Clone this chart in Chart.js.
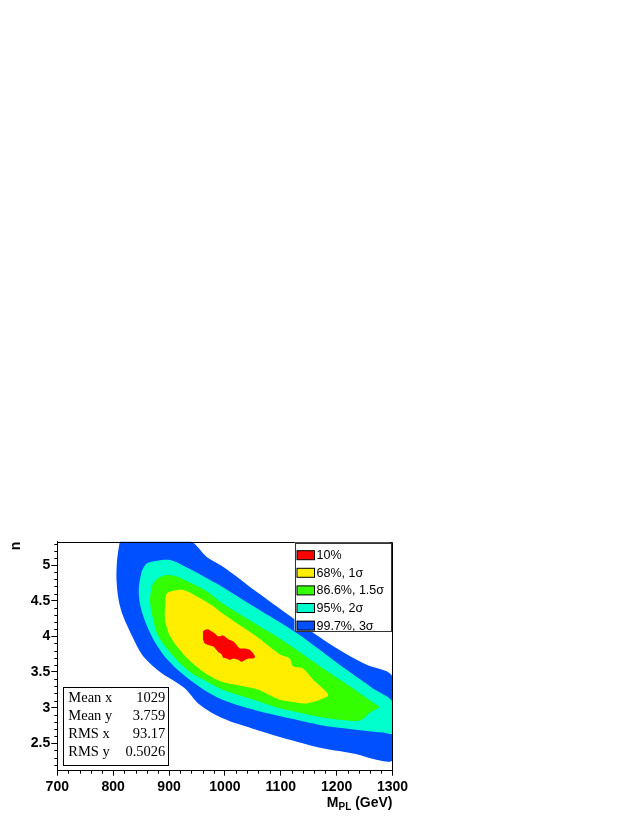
<!DOCTYPE html>
<html>
<head>
<meta charset="utf-8">
<script src="https://cdn.jsdelivr.net/npm/chart.js@4.4.0/dist/chart.umd.min.js"></script>
<style>
  html, body { margin: 0; padding: 0; background: #fff; }
  #wrap { width: 631px; height: 816px; }
</style>
</head>
<body>
<div id="wrap"><canvas id="contourPlot" width="631" height="816"></canvas></div>
<script>
// confidence levels, innermost first
const levels = ['10%', '68%, 1σ', '86.6%, 1.5σ', '95%, 2σ', '99.7%, 3σ'];
const levelColors = ['#ff0000', '#ffee00', '#33ff00', '#00ffcc', '#0050ff'];

// contour outlines: [M_PL (GeV), n]
const red = [[961,3.95],[961,4.07],[964,4.09],[970,4.10],[976,4.07],[982,4.04],[988,4.00],[997,4.01],
  [1006,3.96],[1015,3.93],[1021,3.88],[1027,3.83],[1036,3.83],[1045,3.81],[1051,3.76],[1054,3.71],
  [1051,3.69],[1042,3.69],[1036,3.67],[1030,3.64],[1024,3.67],[1015,3.69],[1009,3.67],[1003,3.69],
  [997,3.70],[994,3.75],[988,3.78],[979,3.86],[970,3.88],[964,3.90]];
const yellow = [[893,4.44],[896,4.60],[908,4.64],[926,4.65],[950,4.56],[980,4.42],[996,4.32],[1056,4.00],
  [1098,3.75],[1116,3.69],[1122,3.58],[1140,3.55],[1158,3.39],[1185,3.18],[1170,3.11],[1146,3.06],
  [1122,3.08],[1098,3.11],[1056,3.26],[996,3.36],[962,3.50],[927,3.74],[902,4.00],[893,4.23]];
const green = [[869,4.70],[878,4.80],[896,4.86],[914,4.84],[938,4.75],[968,4.63],[996,4.46],[1056,4.17],
  [1098,3.97],[1134,3.78],[1170,3.58],[1206,3.39],[1242,3.20],[1265,3.07],[1276,3.01],[1259,2.93],
  [1242,2.82],[1206,2.83],[1170,2.87],[1134,2.93],[1098,2.99],[1056,3.10],[996,3.25],[962,3.39],
  [938,3.50],[906,3.74],[881,4.00],[872,4.23],[866,4.50]];
const cyan = [[851,4.91],[860,5.02],[878,5.06],[902,5.07],[931,4.97],[985,4.74],[1045,4.45],[1116,4.11],
  [1146,3.95],[1218,3.53],[1265,3.27],[1300,3.08],[1300,2.64],[1283,2.65],[1235,2.69],[1175,2.75],
  [1116,2.85],[1056,2.96],[996,3.11],[955,3.29],[920,3.50],[890,3.74],[869,4.00],[854,4.28],
  [847,4.50],[846,4.70]];
const blue = [[812,5.34],[936,5.34],[968,5.11],[998,4.97],[1056,4.63],[1116,4.29],[1175,3.96],[1218,3.75],
  [1254,3.60],[1300,3.43],[1300,2.27],[1271,2.27],[1234,2.35],[1175,2.43],[1116,2.55],[1056,2.69],
  [996,2.85],[955,3.04],[927,3.28],[884,3.50],[852,3.74],[834,4.00],[818,4.28],[810,4.50],
  [806,4.79],[807,5.07]];
const contours = [red, yellow, green, cyan, blue];

const statNames = ['Mean x', 'Mean y', 'RMS x', 'RMS y'];
const statValues = ['1029', '3.759', '93.17', '0.5026'];

const xRange = [700, 1300];
const yRange = [2.116, 5.327];

const sans = "'Liberation Sans', Arial, Helvetica, sans-serif";
const serif = "'Liberation Serif', 'Times New Roman', serif";

function closed(pts) {
  const out = pts.map(p => ({x: p[0], y: p[1]}));
  out.push({x: pts[0][0], y: pts[0][1]});
  return out;
}

const datasets = contours.map((pts, i) => ({
  label: levels[i],
  data: closed(pts),
  backgroundColor: levelColors[i],
  borderColor: levelColors[i],
  borderWidth: 0,
  pointRadius: 0,
  tension: i === 0 ? 0.15 : 0.3,
  fill: 'shape'
}));

function minorTicks(ctx, scale, step, major, len, vertical) {
  const n0 = Math.ceil(scale.min / step - 1e-6), n1 = Math.floor(scale.max / step + 1e-6);
  ctx.beginPath();
  for (let k = n0; k <= n1; k++) {
    const v = k * step;
    if (Math.abs(v / major - Math.round(v / major)) < 1e-6) continue;
    const p = Math.round(scale.getPixelForValue(v)) + 0.5;
    if (vertical) { ctx.moveTo(scale.right, p); ctx.lineTo(scale.right - len, p); }
    else { ctx.moveTo(p, scale.top); ctx.lineTo(p, scale.top + len); }
  }
  ctx.stroke();
}

const rootDecor = {
  id: 'rootDecor',
  afterDraw(chart) {
    const {ctx, chartArea: a, scales} = chart;
    ctx.save();
    ctx.strokeStyle = '#000';
    ctx.lineWidth = 1;
    // top and right frame
    ctx.beginPath();
    ctx.moveTo(Math.round(a.left) + 0.5, Math.round(a.top) + 0.5);
    ctx.lineTo(Math.round(a.right) - 0.5, Math.round(a.top) + 0.5);
    ctx.lineTo(Math.round(a.right) - 0.5, Math.round(a.bottom) + 0.5);
    ctx.stroke();
    minorTicks(ctx, scales.y, 0.1, 0.5, 3, true);
    minorTicks(ctx, scales.x, 20, 100, 3, false);

    // legend box
    const lx = a.right - 98, ly = a.top + 1, lw = 96, lh = 88;
    ctx.fillStyle = '#fff';
    ctx.fillRect(lx, ly, lw, lh);
    ctx.strokeStyle = '#333';
    ctx.strokeRect(Math.round(lx) + 0.5, Math.round(ly) + 0.5, lw, lh);
    ctx.font = '12.5px ' + sans;
    ctx.textBaseline = 'middle';
    ctx.textAlign = 'left';
    chart.data.datasets.forEach((ds, i) => {
      const cy = ly + 12.5 + i * 17.6;
      ctx.fillStyle = ds.backgroundColor;
      ctx.fillRect(lx + 2.5, cy - 4.5, 17.5, 9);
      ctx.strokeStyle = '#000';
      ctx.strokeRect(lx + 2.5, cy - 4.5, 17.5, 9);
      ctx.fillStyle = '#000';
      ctx.fillText(ds.label, lx + 22, cy + 0.5);
    });

    // stats box
    const sx = a.left + 6, sy = a.bottom - 84, sw = 105, sh = 78;
    ctx.fillStyle = '#fff';
    ctx.fillRect(sx, sy, sw, sh);
    ctx.strokeStyle = '#000';
    ctx.strokeRect(Math.round(sx) + 0.5, Math.round(sy) + 0.5, sw, sh);
    ctx.font = '14.5px ' + serif;
    ctx.fillStyle = '#000';
    ctx.textBaseline = 'alphabetic';
    statNames.forEach((name, i) => {
      const by = sy + 15 + i * 18.2;
      ctx.textAlign = 'left';
      ctx.fillText(name, sx + 5, by);
      ctx.textAlign = 'right';
      ctx.fillText(statValues[i], sx + sw - 3, by);
    });

    // x title with subscript
    ctx.fillStyle = '#000';
    ctx.textAlign = 'left';
    const big = 'bold 14px ' + sans, small = 'bold 10px ' + sans;
    ctx.font = big; const wM = ctx.measureText('M').width, wG = ctx.measureText(' (GeV)').width;
    ctx.font = small; const wS = ctx.measureText('PL').width;
    let tx = a.right - (wM + wS + wG);
    const tb = 807;
    ctx.font = big; ctx.fillText('M', tx, tb); tx += wM;
    ctx.font = small; ctx.fillText('PL', tx, tb + 3); tx += wS;
    ctx.font = big; ctx.fillText(' (GeV)', tx, tb);

    // y title
    ctx.translate(16, a.top);
    ctx.rotate(-Math.PI / 2);
    ctx.textAlign = 'right';
    ctx.textBaseline = 'middle';
    ctx.font = big;
    ctx.fillText('n', 0, 0);
    ctx.restore();
  }
};

new Chart(document.getElementById('contourPlot'), {
  type: 'line',
  data: { datasets: datasets },
  plugins: [rootDecor],
  options: {
    responsive: false,
    animation: false,
    layout: { padding: { top: 541.7, right: 238.5, bottom: 0, left: 0 } },
    plugins: { legend: { display: false }, tooltip: { enabled: false } },
    scales: {
      x: {
        type: 'linear', min: xRange[0], max: xRange[1],
        afterFit(s) { s.height = 45.3; },
        grid: { drawOnChartArea: false, tickLength: 5, color: '#000' },
        border: { color: '#000', width: 1 },
        ticks: { stepSize: 100, includeBounds: false, maxRotation: 0, padding: 3, color: '#000',
                 callback: v => String(Math.round(v)),
                 font: { family: sans, size: 14, weight: 'bold' } }
      },
      y: {
        type: 'linear', min: yRange[0], max: yRange[1],
        afterFit(s) { s.width = 57.3; },
        grid: { drawOnChartArea: false, tickLength: 6, color: '#000' },
        border: { color: '#000', width: 1 },
        ticks: { stepSize: 0.5, includeBounds: false, padding: 1, color: '#000',
                 callback: v => String(Math.round(v * 10) / 10),
                 font: { family: sans, size: 14, weight: 'bold' } }
      }
    }
  }
});
</script>
</body>
</html>
